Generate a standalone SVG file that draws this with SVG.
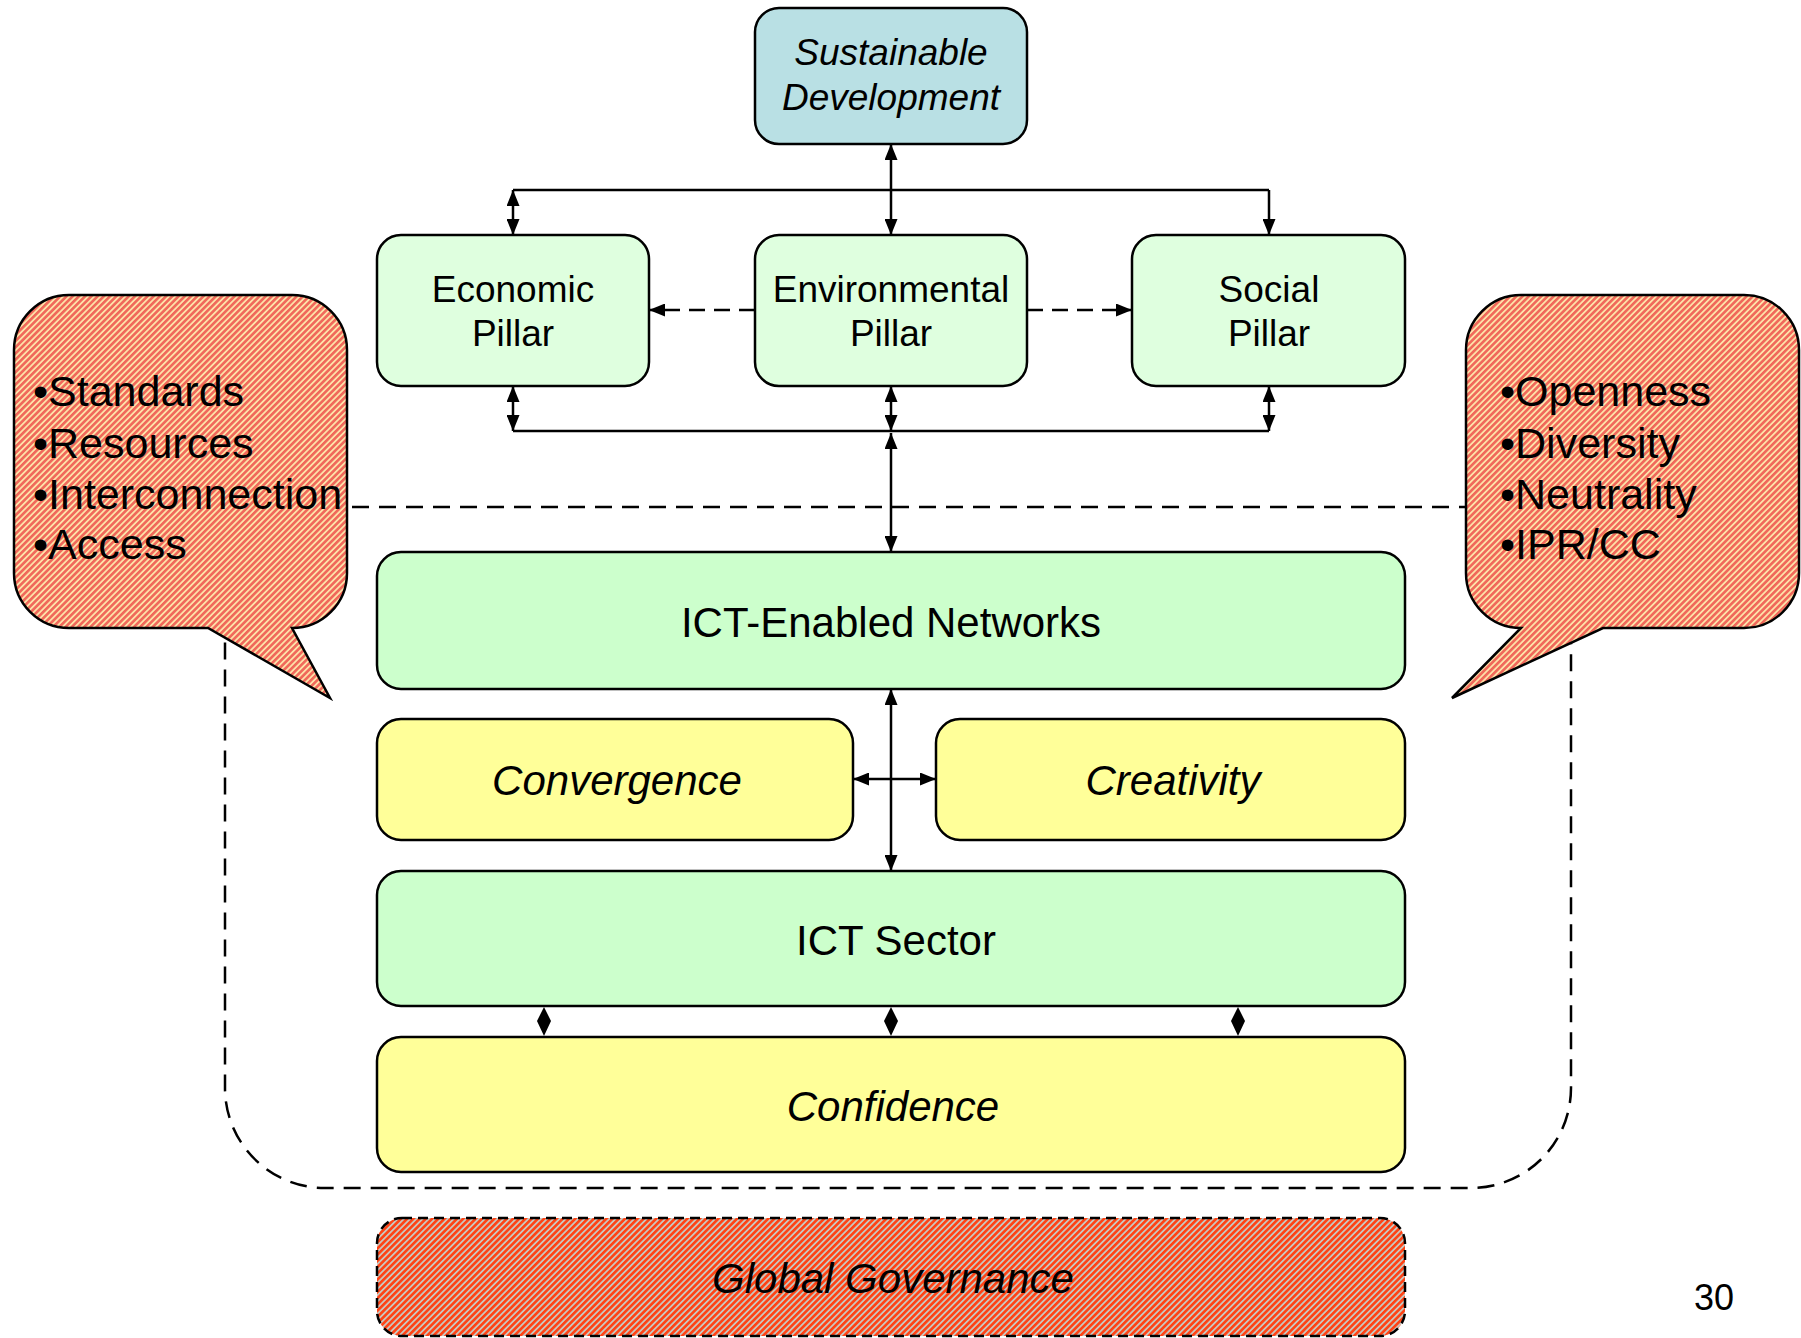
<svg xmlns="http://www.w3.org/2000/svg" width="1801" height="1338" viewBox="0 0 1801 1338">
<defs>
<pattern id="hatchA" patternUnits="userSpaceOnUse" width="4.4" height="10" patternTransform="rotate(45)">
<rect width="4.4" height="10" fill="#fde2a8"/>
<rect width="2.6" height="10" fill="#f0685a"/>
</pattern>
<pattern id="hatchB" patternUnits="userSpaceOnUse" width="4.4" height="10" patternTransform="rotate(45)">
<rect width="4.4" height="10" fill="#c9c7bf"/>
<rect width="2.6" height="10" fill="#ff4214"/>
</pattern>
<marker id="ah" markerUnits="userSpaceOnUse" viewBox="0 0 16 13" refX="16" refY="6.5" markerWidth="16" markerHeight="13" orient="auto-start-reverse">
<path d="M0,0 L16,6.5 L0,13 Z" fill="#000"/>
</marker>
<style>
.box{stroke:#000;stroke-width:2.5}
.t{font-family:"Liberation Sans",Arial,sans-serif;fill:#000;text-anchor:middle}
.i{font-style:italic}
.ln{stroke:#000;stroke-width:2.5;fill:none}
.dash{stroke:#000;stroke-width:2.5;fill:none;stroke-dasharray:17 10}
.bul{font-family:"Liberation Sans",Arial,sans-serif;font-size:43px;fill:#000}
</style>
</defs>
<rect width="1801" height="1338" fill="#fff"/>

<g id="boundary">
<rect x="225" y="507" width="1346" height="681" rx="100" ry="100" class="dash"/>
</g>

<g id="connectors">
<line x1="513" y1="190" x2="1269" y2="190" class="ln" stroke-width="3"/>
<line x1="891" y1="144" x2="891" y2="235" class="ln" marker-start="url(#ah)" marker-end="url(#ah)"/>
<line x1="513" y1="190" x2="513" y2="235" class="ln" marker-start="url(#ah)" marker-end="url(#ah)"/>
<line x1="1269" y1="190" x2="1269" y2="235" class="ln" marker-end="url(#ah)"/>
<line x1="755" y1="310" x2="649" y2="310" class="ln" stroke-width="3" stroke-dasharray="16 9" marker-end="url(#ah)"/>
<line x1="1027" y1="310" x2="1132" y2="310" class="ln" stroke-width="3" stroke-dasharray="16 9" marker-end="url(#ah)"/>
<line x1="513" y1="386" x2="513" y2="431" class="ln" marker-start="url(#ah)" marker-end="url(#ah)"/>
<line x1="891" y1="386" x2="891" y2="431" class="ln" marker-start="url(#ah)" marker-end="url(#ah)"/>
<line x1="1269" y1="386" x2="1269" y2="431" class="ln" marker-start="url(#ah)" marker-end="url(#ah)"/>
<line x1="513" y1="431" x2="1269" y2="431" class="ln" stroke-width="3"/>
<line x1="891" y1="433" x2="891" y2="552" class="ln" marker-start="url(#ah)" marker-end="url(#ah)"/>
<line x1="891" y1="689" x2="891" y2="871" class="ln" marker-start="url(#ah)" marker-end="url(#ah)"/>
<line x1="853" y1="779" x2="936" y2="779" class="ln" marker-start="url(#ah)" marker-end="url(#ah)"/>
<polygon points="544,1007 551,1021 544,1036 537,1021" fill="#000"/>
<polygon points="891,1007 898,1021 891,1036 884,1021" fill="#000"/>
<polygon points="1238,1007 1245,1021 1238,1036 1231,1021" fill="#000"/>
</g>

<g id="sustainable-development">
<rect x="755" y="8" width="272" height="136" rx="24" fill="#b9e0e4" class="box"/>
<text class="t i" x="891" y="65" font-size="37">Sustainable</text>
<text class="t i" x="891" y="110" font-size="37">Development</text>
</g>

<g id="economic-pillar">
<rect x="377" y="235" width="272" height="151" rx="24" fill="#dfffdf" class="box"/>
<text class="t" x="513" y="302" font-size="37">Economic</text>
<text class="t" x="513" y="346" font-size="37">Pillar</text>
</g>

<g id="environmental-pillar">
<rect x="755" y="235" width="272" height="151" rx="24" fill="#dfffdf" class="box"/>
<text class="t" x="891" y="302" font-size="37">Environmental</text>
<text class="t" x="891" y="346" font-size="37">Pillar</text>
</g>

<g id="social-pillar">
<rect x="1132" y="235" width="273" height="151" rx="24" fill="#dfffdf" class="box"/>
<text class="t" x="1269" y="302" font-size="37">Social</text>
<text class="t" x="1269" y="346" font-size="37">Pillar</text>
</g>

<g id="callout-left">
<path d="M69,295 H292 A55,55 0 0 1 347,350 V573 A55,55 0 0 1 292,628 L330,698 L208,628 H69 A55,55 0 0 1 14,573 V350 A55,55 0 0 1 69,295 Z" fill="url(#hatchA)" class="box"/>
<text class="bul" x="33" y="406">•Standards</text>
<text class="bul" x="33" y="458">•Resources</text>
<text class="bul" x="33" y="509">•Interconnection</text>
<text class="bul" x="33" y="559">•Access</text>
</g>

<g id="callout-right">
<path d="M1521,295 H1744 A55,55 0 0 1 1799,350 V573 A55,55 0 0 1 1744,628 H1603 L1452,698 L1521,628 A55,55 0 0 1 1466,573 V350 A55,55 0 0 1 1521,295 Z" fill="url(#hatchA)" class="box"/>
<text class="bul" x="1500" y="406">•Openness</text>
<text class="bul" x="1500" y="458">•Diversity</text>
<text class="bul" x="1500" y="509">•Neutrality</text>
<text class="bul" x="1500" y="559">•IPR/CC</text>
</g>

<g id="ict-enabled-networks">
<rect x="377" y="552" width="1028" height="137" rx="24" fill="#ccffcc" class="box"/>
<text class="t" x="891" y="637" font-size="42">ICT-Enabled Networks</text>
</g>

<g id="convergence">
<rect x="377" y="719" width="476" height="121" rx="24" fill="#ffff99" class="box"/>
<text class="t i" x="617" y="795" font-size="42">Convergence</text>
</g>

<g id="creativity">
<rect x="936" y="719" width="469" height="121" rx="24" fill="#ffff99" class="box"/>
<text class="t i" x="1173" y="795" font-size="42">Creativity</text>
</g>

<g id="ict-sector">
<rect x="377" y="871" width="1028" height="135" rx="24" fill="#ccffcc" class="box"/>
<text class="t" x="896" y="955" font-size="42">ICT Sector</text>
</g>

<g id="confidence">
<rect x="377" y="1037" width="1028" height="135" rx="24" fill="#ffff99" class="box"/>
<text class="t i" x="893" y="1121" font-size="42">Confidence</text>
</g>

<g id="global-governance">
<rect x="377" y="1218" width="1028" height="118" rx="25" fill="url(#hatchB)" class="box" stroke-dasharray="10 6"/>
<text class="t i" x="893" y="1293" font-size="42">Global Governance</text>
</g>

<text class="t" x="1714" y="1310" font-size="36">30</text>
</svg>
